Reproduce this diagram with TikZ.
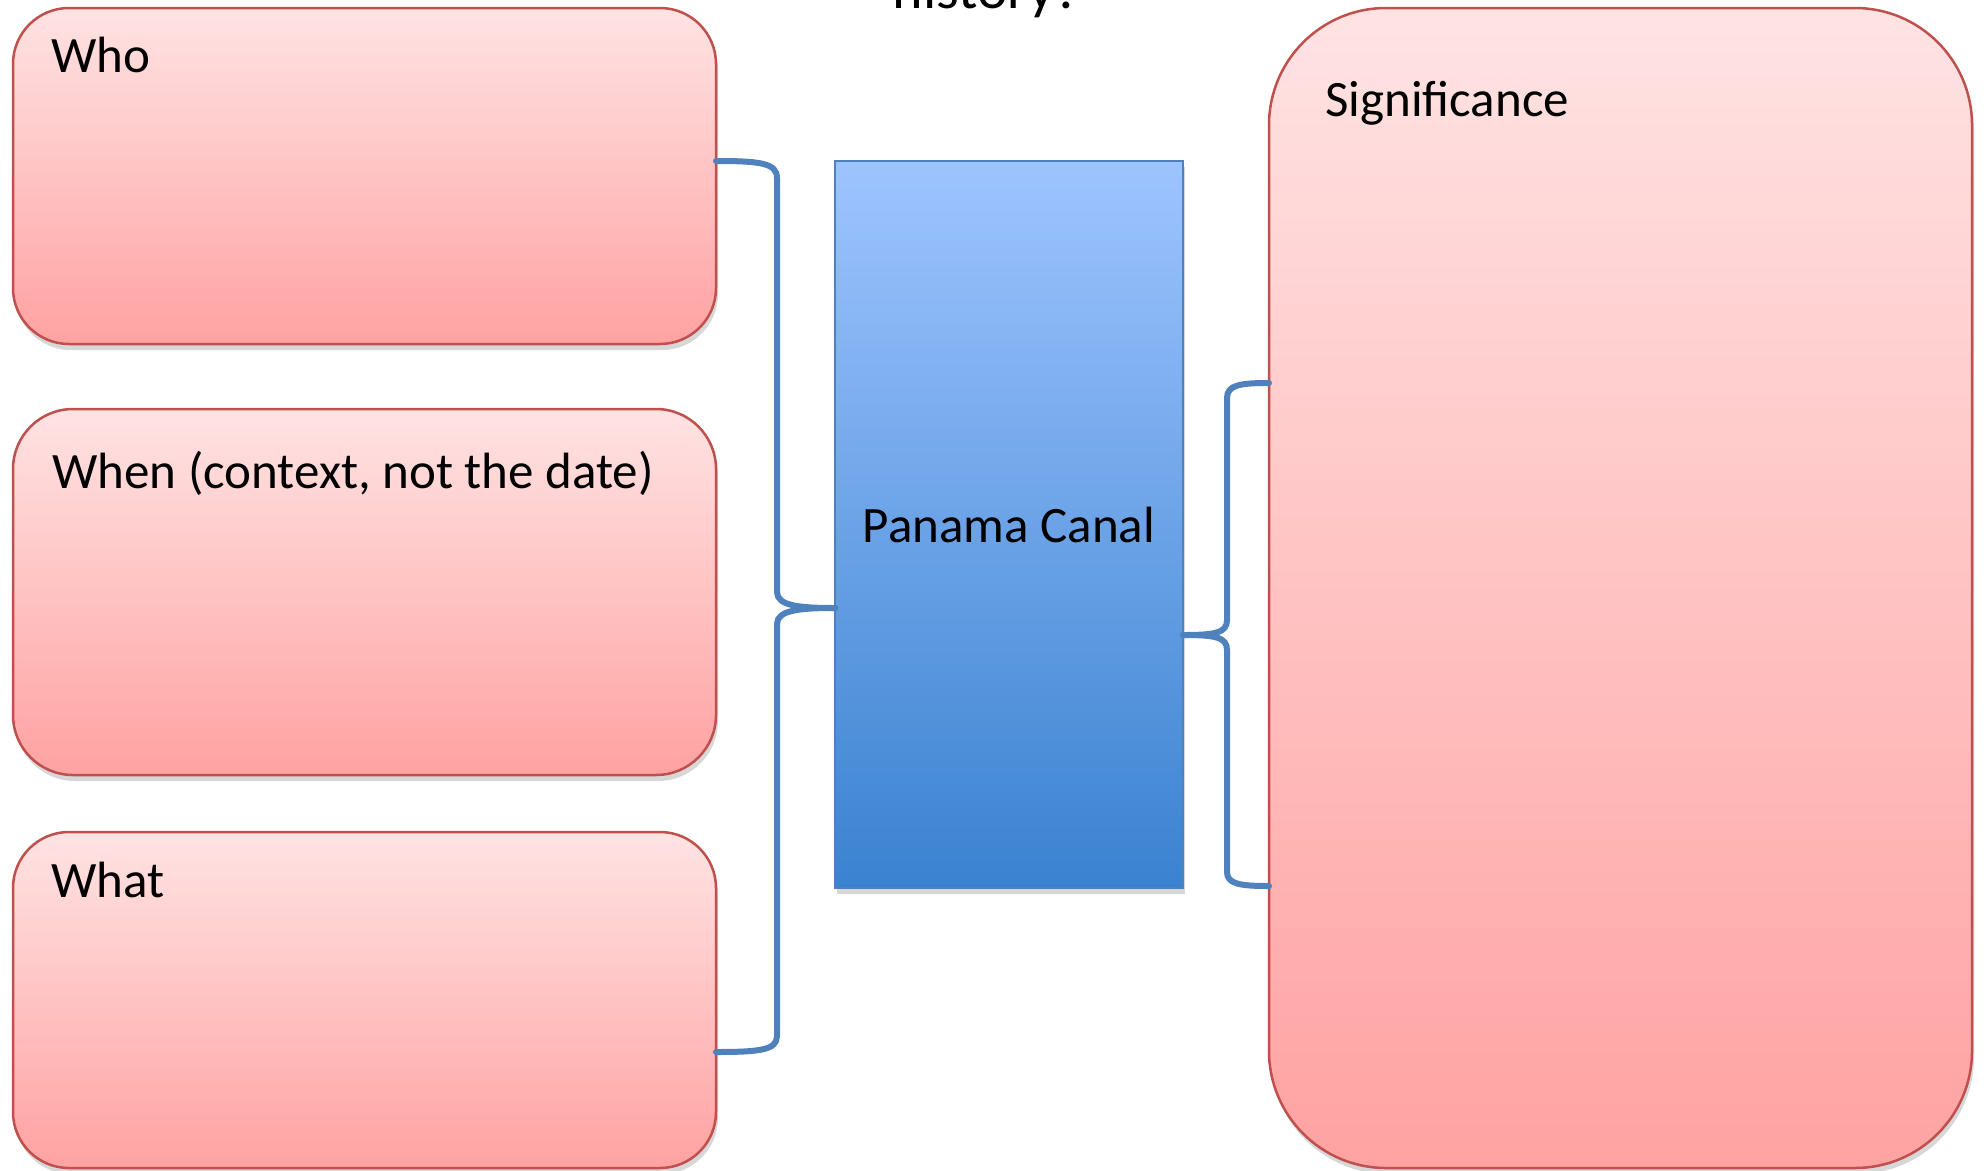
\documentclass[tikz,border=0pt]{standalone}
\usepackage{fontspec}
\setmainfont{Carlito}
\usetikzlibrary{shadows}
\definecolor{redborder}{HTML}{C0504D}
\definecolor{redtop}{HTML}{FFE3E3}
\definecolor{redbot}{HTML}{FFA2A2}
\definecolor{bluetop}{HTML}{9EC4FF}
\definecolor{bluebot}{HTML}{3A82D0}
\definecolor{blueborder}{HTML}{4F81BD}
\definecolor{conn}{HTML}{4F81BD}
\begin{document}
\begin{tikzpicture}[x=1pt,y=-1pt,
  softshadow/.style={drop shadow={shadow xshift=2pt,shadow yshift=-6pt,opacity=0.22,fill=black!70}},
  redbox/.style={draw=redborder,line width=2.5pt,top color=redtop,bottom color=redbot,
    inner sep=0pt,outer sep=0pt,softshadow},
  bluebox/.style={draw=blueborder,line width=2pt,top color=bluetop,bottom color=bluebot,
    inner sep=0pt,outer sep=0pt,softshadow},
  lbl/.style={font=\fontsize{51}{60}\selectfont,inner sep=0pt,text=black},
  brace/.style={draw=conn,line width=6pt,line cap=round,line join=round}]
\useasboundingbox (0,0) rectangle (1986,1170);
\fill[white] (0,0) rectangle (1986,1170);

% boxes
\node[redbox,rounded corners=56pt,minimum width=703pt,minimum height=336pt] (who) at (364.5,176) {};
\node[redbox,rounded corners=60pt,minimum width=703pt,minimum height=366pt] (when) at (364.5,592) {};
\node[redbox,rounded corners=56pt,minimum width=703pt,minimum height=336pt] (what) at (364.5,1000) {};
\node[redbox,rounded corners=117pt,minimum width=703pt,minimum height=1160pt] (sig) at (1620.5,588) {};
\node[bluebox,minimum width=348pt,minimum height=727pt] (canal) at (1009,524.5) {};

% labels
\node[lbl,anchor=base west] (whoT) at (51,72) {Who};
\node[lbl,anchor=base west] (whenT) at (52,488) {When (context, not the date)};
\node[lbl,anchor=base west] (whatT) at (51,897) {What};
\node[lbl,anchor=base west] (sigT) at (1325,116) {Significance};
\node[lbl,anchor=base] (canalT) at (1009,542) {Panama Canal};
\node[font=\fontsize{58}{66}\selectfont,inner sep=0pt,anchor=base] (title) at (987,8) {history?};

% left brace
\draw[brace] ([yshift=15pt]who.east) .. controls (760,161) and (777,163) .. (777,178)
  -- (777,592) .. controls (777,606) and (800,608) .. ([yshift=-83.5pt]canal.west);
\draw[brace] ([yshift=-83.5pt]canal.west) .. controls (800,608) and (777,610) .. (777,624)
  -- (777,1036) .. controls (777,1050) and (760,1052) .. ([yshift=-52pt]what.east);

% right brace
\draw[brace] ([yshift=-110.5pt]canal.east) .. controls (1215,635) and (1227,633) .. (1227,620)
  -- (1227,398) .. controls (1227,385) and (1240,383) .. ([yshift=205pt]sig.west);
\draw[brace] ([yshift=-110.5pt]canal.east) .. controls (1215,635) and (1227,637) .. (1227,650)
  -- (1227,872) .. controls (1227,884) and (1240,886) .. ([yshift=-298pt]sig.west);
\end{tikzpicture}
\end{document}
